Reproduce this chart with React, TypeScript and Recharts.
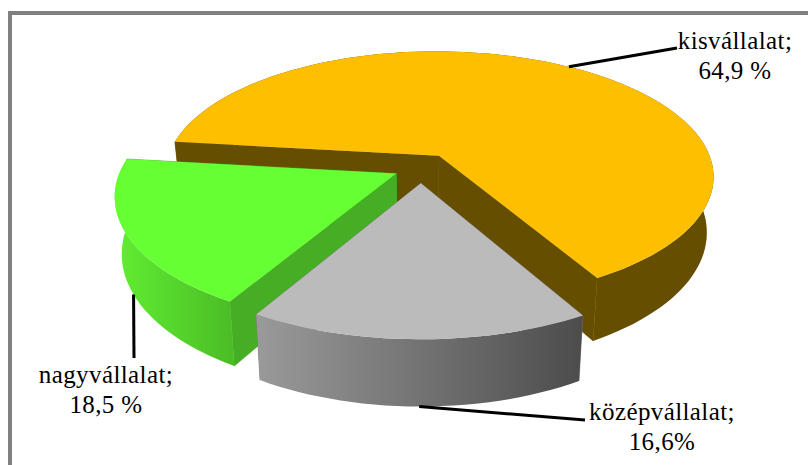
import { PieChart, Pie } from 'recharts';

// Drawing order is back to front: the grey slice overlaps the green one
const categories = ['kisvállalat;', 'nagyvállalat;', 'középvállalat;'];
const shares = [64.9, 18.5, 16.6];
const percentLabels = ['64,9 %', '18,5 %', '16,6%'];

const topColors = ['#FDBF00', '#66FF33', '#BBBBBB'];
const wallColors = ['#664E00', '#46AE24', '#777777'];
const rimLeftColors = ['#664E00', '#62EE32', '#9A9A9A'];
const rimRightColors = ['#664E00', '#4BBE26', '#4C4C4C'];
const explodes = [0.12, 0.1, 0.12];

// label placement: text centre, first baseline, leader end
const labelCentreX = [735, 106, 662];
const labelBaseline = [49, 383, 420];
const leaderEnd = [[677, 48], [134, 358], [585, 420]];

const TILT = 125 / 275;
const PERSPECTIVE = 0.163;
const DEPTH = 55;
const SHRINK = 0.977;
const RAD = Math.PI / 180;

const data = categories.map((name, i) => ({
    name,
    value: shares[i],
    fill: topColors[i],
    index: i,
}));

type Pt = [number, number];

// slice-local polar position -> screen, with a simple perspective on the pie plane
function project(cx: number, cy: number, r: number, e: number, mid: number, angle: number, f: number, low: boolean): Pt {
    const X = e * Math.cos(mid * RAD) + f * Math.cos(angle * RAD);
    const Y = -(e * Math.sin(mid * RAD) + f * Math.sin(angle * RAD));
    const w = 1 / (1 - PERSPECTIVE * Y);
    let x = cx + r * X * w;
    let y = cy + r * TILT * Y * w;
    if (low) {
        x = cx + (x - cx) * SHRINK;
        y += DEPTH * w;
    }
    return [x, y];
}

const toPath = (pts: Pt[]) => 'M' + pts.map(p => `${p[0].toFixed(1)},${p[1].toFixed(1)}`).join('L') + 'Z';

function Slice3D(props: any) {
    const { cx, cy, outerRadius: r, startAngle, endAngle, fill, payload } = props;
    const i = payload?.index ?? props.index;
    const e = explodes[i];
    const mid = (startAngle + endAngle) / 2;
    const steps = Math.ceil(Math.abs(endAngle - startAngle) / 2);
    const topArc: Pt[] = [];
    const lowArc: Pt[] = [];
    for (let s = 0; s <= steps; s++) {
        const a = startAngle + ((endAngle - startAngle) * s) / steps;
        topArc.push(project(cx, cy, r, e, mid, a, 1, false));
        lowArc.push(project(cx, cy, r, e, mid, a, 1, true));
    }
    const apex = project(cx, cy, r, e, mid, mid, 0, false);
    const apexLow = project(cx, cy, r, e, mid, mid, 0, true);
    const xs = topArc.map(p => p[0]);
    const gradId = `rim-${i}`;
    return (
        <g>
            <defs>
                <linearGradient id={gradId} gradientUnits="userSpaceOnUse"
                    x1={Math.min(...xs)} x2={Math.max(...xs)} y1={0} y2={0}>
                    <stop offset="0%" stopColor={rimLeftColors[i]} />
                    <stop offset="100%" stopColor={rimRightColors[i]} />
                </linearGradient>
            </defs>
            <path d={toPath([apex, topArc[0], lowArc[0], apexLow])} fill={wallColors[i]} stroke={wallColors[i]} strokeWidth={0.6} />
            <path d={toPath([apex, topArc[steps], lowArc[steps], apexLow])} fill={wallColors[i]} stroke={wallColors[i]} strokeWidth={0.6} />
            <path d={toPath([...topArc, ...[...lowArc].reverse()])} fill={`url(#${gradId})`} />
            <path d={toPath([apex, ...topArc])} fill={fill} />
        </g>
    );
}

function SliceLabel(props: any) {
    const { cx, cy, outerRadius: r, midAngle, index } = props;
    const front = Math.sin(midAngle * RAD) < 0;
    const [sx, sy] = project(cx, cy, r, explodes[index], midAngle, midAngle, 1, front);
    const [ex, ey] = leaderEnd[index];
    const textStyle = { fontFamily: '"Liberation Serif", serif', fontSize: 25, letterSpacing: 0.4, fill: '#000' };
    return (
        <g>
            <line x1={sx} y1={sy} x2={ex} y2={ey} stroke="#000" strokeWidth={3} />
            <text x={labelCentreX[index]} y={labelBaseline[index]} textAnchor="middle" style={textStyle}>{categories[index]}</text>
            <text x={labelCentreX[index]} y={labelBaseline[index] + 30} textAnchor="middle" style={textStyle}>{percentLabels[index]}</text>
        </g>
    );
}

export default function App() {
    return (
        <div style={{ position: 'absolute', left: 0, top: 0, width: 808, height: 465, background: '#fff', overflow: 'hidden' }}>
            <div style={{ position: 'absolute', left: 8, top: 11, width: 800, height: 454, borderLeft: '4px solid #808080', borderTop: '4px solid #808080', boxSizing: 'border-box' }} />
            <div style={{ position: 'absolute', left: 0, top: 0 }}>
                <PieChart width={808} height={465} margin={{ top: 0, right: 0, bottom: 0, left: 0 }}>
                    <Pie
                        data={data}
                        dataKey="value"
                        nameKey="name"
                        cx={421}
                        cy={168}
                        innerRadius={0}
                        outerRadius={275}
                        startAngle={-60.4}
                        endAngle={299.6}
                        stroke="none"
                        shape={Slice3D}
                        label={SliceLabel}
                        labelLine={false}
                        isAnimationActive={false}
                    />
                </PieChart>
            </div>
        </div>
    );
}
